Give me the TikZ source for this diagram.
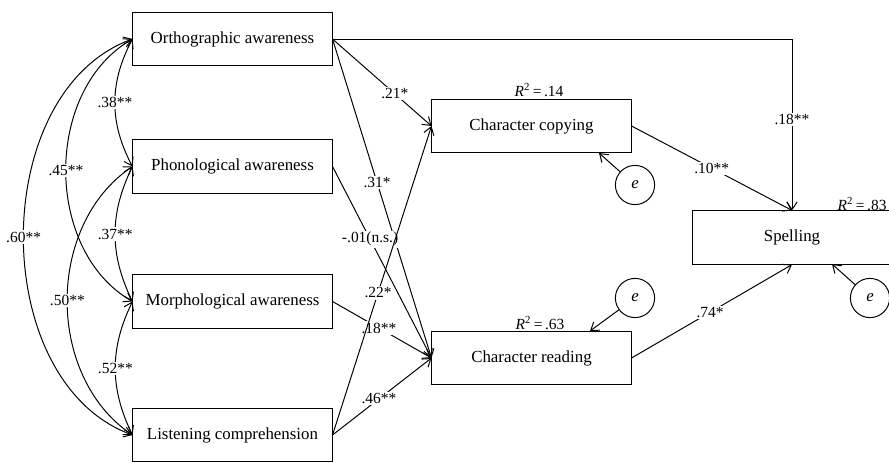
\documentclass[tikz,border=0pt]{standalone}
\usepackage{fontspec}
\setmainfont{Liberation Serif}
\usetikzlibrary{arrows.meta}

\begin{document}
\begin{tikzpicture}[x=0.025cm, y=-0.025cm, >={Straight Barb[length=1.9mm,width=2.6mm]}, line width=0.7pt,
  caja/.style={draw, minimum width=4.975cm, minimum height=1.33cm, inner sep=0pt, font=\fontsize{12}{14}\selectfont},
  err/.style={draw, circle, minimum size=0.98cm, inner sep=0pt, font=\fontsize{12}{14}\selectfont\itshape},
  coef/.style={fill=white, inner sep=1pt, font=\fontsize{11}{13}\selectfont},
  rdos/.style={inner sep=0pt, font=\fontsize{11}{13}\selectfont}]
  \useasboundingbox (0,0) rectangle (889,462);
  % predictores
  \node[caja] (ort) at (232.5,39) {Orthographic awareness};
  \node[caja] (fon) at (232.5,166.5) {Phonological awareness};
  \node[caja] (mor) at (232.5,301.5) {Morphological awareness};
  \node[caja] (com) at (232.5,435) {Listening comprehension};
  % mediadores y resultado
  \node[caja] (cop) at (531.5,126) {Character copying};
  \node[caja] (lec) at (531.5,358) {Character reading};
  \node[caja] (esc) at (792,237.5) {Spelling};
  \node[rdos] (r1) at (539,90) {\textit{R}\textsuperscript{2}\,=\,.14};
  \node[rdos] (r2) at (540,323) {\textit{R}\textsuperscript{2}\,=\,.63};
  \node[rdos, anchor=east] (r3) at (887,204) {\textit{R}\textsuperscript{2}\,=\,.83};
  % errores
  \node[err] (e1) at (635,185) {e};
  \node[err] (e2) at (635,298) {e};
  \node[err] (e3) at (870,298) {e};
  \coordinate (cop-e) at (599,153);
  \coordinate (lec-e) at (590,331);
  \coordinate (esc-e) at (832,264);
  \draw[->] (e1) -- (cop-e);
  \draw[->] (e2) -- (lec-e);
  \draw[->] (e3) -- (esc-e);
  % correlaciones
  \draw[<->] (ort.west) to[bend right=28] node[coef] {.38**} (fon.west);
  \draw[<->] (fon.west) to[bend right=26] node[coef] {.37**} (mor.west);
  \draw[<->] (mor.west) to[bend right=26] node[coef] {.52**} (com.west);
  \draw[<->] (ort.west) to[bend right=60] node[coef] {.45**} (mor.west);
  \draw[<->] (fon.west) to[bend right=56] node[coef] {.50**} (com.west);
  \draw[<->] (ort.west) to[bend right=70] node[coef] {.60**} (com.west);
  % caminos
  \draw[->] (ort.east) -- (cop.west) node[coef, pos=0.63] {.21*};
  \draw[->] (ort.east) -- (lec.west) node[coef, pos=0.45] {.31*};
  \draw[->] (fon.east) -- (lec.west) node[coef, pos=0.38] {-.01(n.s.)};
  \draw[->] (mor.east) -- (lec.west) node[coef, pos=0.47] {.18**};
  \draw[->] (com.east) -- (cop.west) node[coef, pos=0.46] {.22*};
  \draw[->] (com.east) -- (lec.west) node[coef, pos=0.47] {.46**};
  \draw[->] (ort.east) -| (esc.north) node[coef, pos=0.735] {.18**};
  \draw[->] (cop.east) -- (esc.north) node[coef, pos=0.5] {.10**};
  \draw[->] (lec.east) -- (esc.south) node[coef, pos=0.49] {.74*};
\end{tikzpicture}
\end{document}
